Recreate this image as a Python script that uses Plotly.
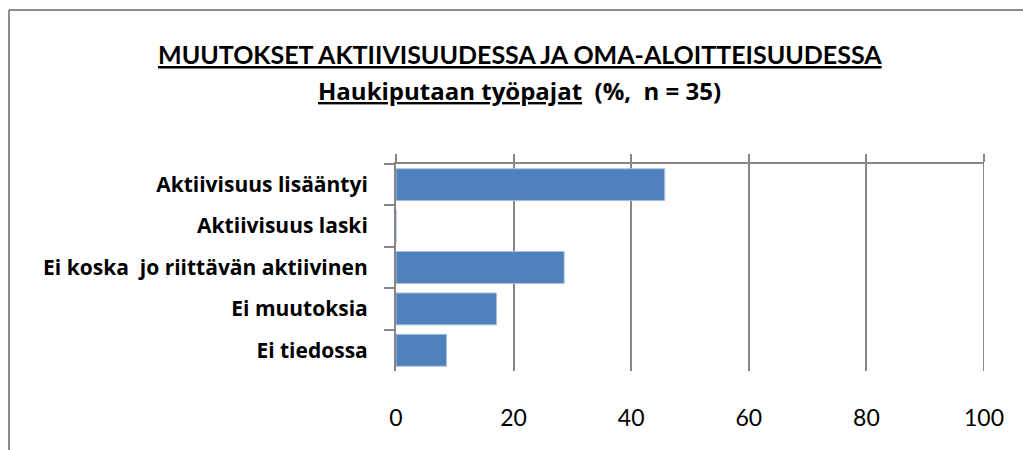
import plotly.graph_objects as go

# Survey result: changes in activity and self-initiative (%, n = 35)
categories = [
    "Aktiivisuus lisääntyi",
    "Aktiivisuus laski",
    "Ei koska  jo riittävän aktiivinen",
    "Ei muutoksia",
    "Ei tiedossa",
]
percentages = [45.7, 0.0, 28.6, 17.1, 8.6]
x_ticks = [0, 20, 40, 60, 80, 100]

title_line1 = "MUUTOKSET AKTIIVISUUDESSA JA OMA-ALOITTEISUUDESSA"
title_line2_underlined = "Haukiputaan työpajat"
title_line2_rest = "(%,  n = 35)"

W, H = 1023, 450
L, R, T, B = 396, 39, 164, 79
PW, PH = W - L - R, H - T - B


def px(x):
    return (x - L) / PW


def py(y):
    return (H - B - y) / PH


TITLE_FONT = "Lato"
LABEL_FONT = "Open Sans"
AXIS_GREY = "#868686"

fig = go.Figure()
fig.add_trace(go.Bar(
    y=categories,
    x=percentages,
    orientation="h",
    marker=dict(color="#4f81bd", line=dict(color="#a9c0de", width=1)),
    xaxis="x",
    yaxis="y",
    hoverinfo="skip",
))
# invisible trace that carries the bottom label axis
fig.add_trace(go.Scatter(
    x=[0, 100], y=[categories[0], categories[0]],
    xaxis="x2", yaxis="y", mode="markers",
    marker=dict(opacity=0), showlegend=False, hoverinfo="skip",
))

fig.update_layout(
    width=W, height=H,
    margin=dict(l=L, r=R, t=T, b=B, pad=0),
    paper_bgcolor="white",
    plot_bgcolor="white",
    showlegend=False,
    bargap=0.23,
    font=dict(family=TITLE_FONT, color="black"),
    xaxis=dict(
        side="top", range=[0, 100], tickvals=x_ticks,
        showticklabels=False,
        showline=True, linecolor=AXIS_GREY, linewidth=2,
        ticks="outside", ticklen=8, tickwidth=2, tickcolor=AXIS_GREY,
        showgrid=True, gridcolor=AXIS_GREY, gridwidth=2,
        zeroline=False, fixedrange=True,
    ),
    xaxis2=dict(
        overlaying="x", side="bottom", anchor="y", range=[0, 100],
        tickvals=x_ticks, ticktext=[str(v) for v in x_ticks],
        showline=False, showgrid=False, zeroline=False,
        ticks="outside", ticklen=26, tickcolor="rgba(0,0,0,0)",
        tickfont=dict(family=TITLE_FONT, size=23, color="black"),
    ),
    yaxis=dict(
        autorange="reversed", type="category",
        showline=True, linecolor=AXIS_GREY, linewidth=2,
        ticks="outside", ticklen=10, tickwidth=2, tickcolor=AXIS_GREY,
        tickson="boundaries", ticklabelstandoff=22,
        showgrid=False, zeroline=False,
        tickfont=dict(family=LABEL_FONT, size=21, color="black", weight="bold"),
    ),
)

# gridline at the right end of the value range
fig.add_shape(type="line", xref="x", yref="paper",
              x0=x_ticks[-1], x1=x_ticks[-1], y0=0, y1=1 + 8 / PH,
              line=dict(color=AXIS_GREY, width=2))

fig.add_annotation(
    x=px(520), y=py(54), xref="paper", yref="paper",
    text=f"<b><u>{title_line1}</u></b>", showarrow=False,
    font=dict(family=TITLE_FONT, size=25, color="black"),
    xanchor="center", yanchor="middle",
)
fig.add_annotation(
    x=px(519), y=py(90), xref="paper", yref="paper",
    text=f"<b><u>{title_line2_underlined}</u>  {title_line2_rest}</b>",
    showarrow=False,
    font=dict(family=LABEL_FONT, size=24, color="black"),
    xanchor="center", yanchor="middle",
)

# chart frame (runs past the right and bottom edges)
frame = dict(color="#8c8c8c", width=2)
fig.add_shape(type="line", xref="paper", yref="paper",
              x0=px(9), x1=px(1040), y0=py(10), y1=py(10), line=frame)
fig.add_shape(type="line", xref="paper", yref="paper",
              x0=px(9), x1=px(9), y0=py(10), y1=py(470), line=frame)

fig.write_html("out.html")
